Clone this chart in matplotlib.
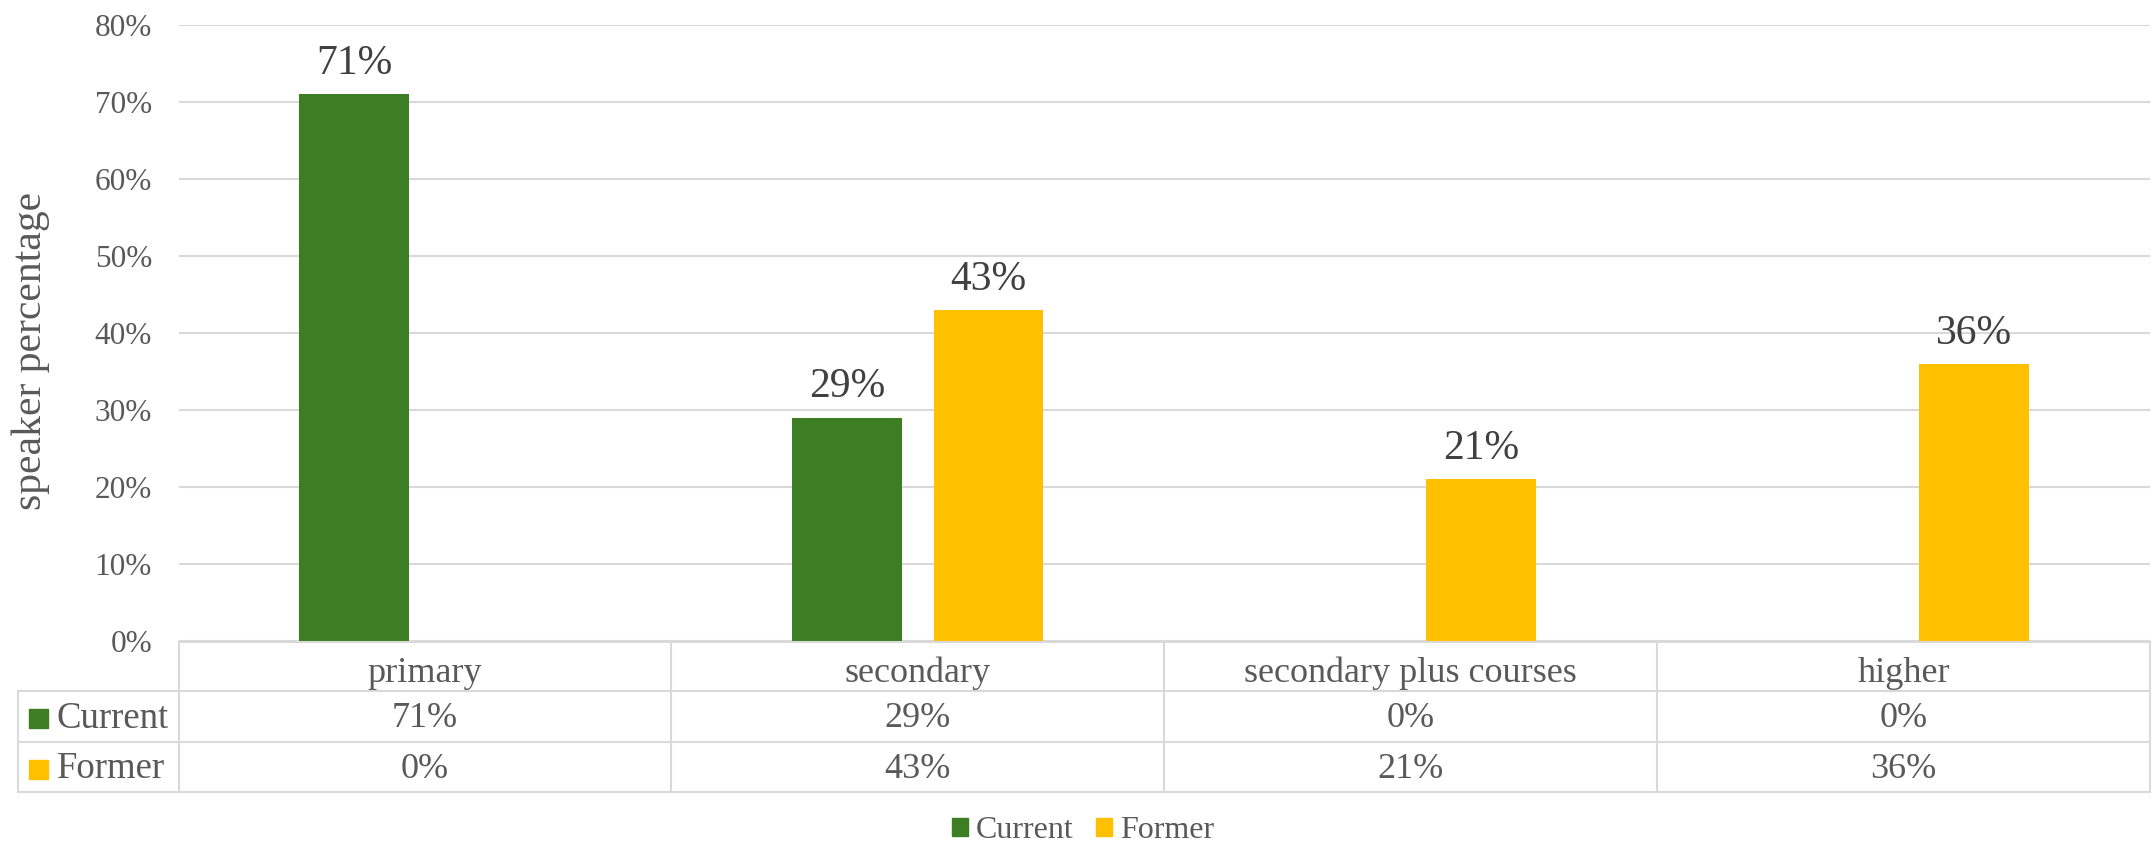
import matplotlib.pyplot as plt
import numpy as np
from matplotlib.patches import Patch
from matplotlib.transforms import blended_transform_factory

# data
categories = ['primary', 'secondary', 'secondary plus courses', 'higher']
series = ['Current', 'Former']
current = [71, 29, 0, 0]
former = [0, 43, 21, 36]
colors = ['#3D7D23', '#FFC000']
yticks = [0, 10, 20, 30, 40, 50, 60, 70, 80]

plt.rcParams['font.family'] = ['Liberation Serif', 'DejaVu Serif']
TXT = '#595959'
GRID = '#D9D9D9'

W, H = 2153, 843
fig = plt.figure(figsize=(W / 100, H / 100), dpi=100)


def fx(px):
    return px / W


def fy(px):
    return 1 - px / H


ax = fig.add_axes([fx(178.5), fy(641), fx(2150) - fx(178.5), fy(24.7) - fy(641)])

x = np.arange(len(categories))
width = 0.223
offset = 0.1435
values = [current, former]
for i, (name, vals) in enumerate(zip(series, values)):
    pos = x + (i * 2 - 1) * offset
    bars = ax.bar(pos, vals, width, color=colors[i], label=name, zorder=3)
    for b, v in zip(bars, vals):
        if v == 0:
            continue
        ax.annotate(f'{v}%', (b.get_x() + b.get_width() / 2, v),
                    xytext=(0, 8), textcoords='offset points',
                    ha='center', va='bottom', fontsize=30, color='#404040')

ax.set_xlim(-0.5, len(categories) - 0.5)
ax.set_ylim(0, 80)
ax.set_yticks(yticks)
ax.set_yticklabels([f'{t}%' for t in yticks])
ax.tick_params(axis='y', length=0, pad=19, labelsize=22.5, labelcolor=TXT)
ax.set_xticks([])
ax.yaxis.grid(True, color=GRID, linewidth=1.5, zorder=0)
for s in ax.spines.values():
    s.set_visible(False)

fig.text(fx(31), fy(351), 'speaker percentage', rotation=90, ha='center',
         va='center', fontsize=30, color=TXT)

# data table under the plot
tr = blended_transform_factory(ax.transData, fig.transFigure)
row_edges = [642, 691, 742, 792]
left_px = 18
line_kw = dict(color=GRID, linewidth=1.5, clip_on=False, solid_capstyle='projecting')

fig.add_artist(plt.Line2D([fx(178.5), fx(2150)], [fy(row_edges[0])] * 2, **line_kw))
for r in row_edges[1:]:
    fig.add_artist(plt.Line2D([fx(left_px), fx(2150)], [fy(r)] * 2, **line_kw))
for xb in np.arange(len(categories) + 1) - 0.5:
    ax.add_artist(plt.Line2D([xb, xb], [fy(row_edges[0]), fy(row_edges[-1])],
                             transform=tr, **line_kw))
fig.add_artist(plt.Line2D([fx(left_px)] * 2, [fy(row_edges[1]), fy(row_edges[-1])], **line_kw))

hdr_y = fy((row_edges[0] + row_edges[1]) / 2 + 7)
for xi, cat in zip(x, categories):
    ax.text(xi, hdr_y, cat, transform=tr, ha='center', va='center',
            fontsize=26, color=TXT)

for i, (name, vals) in enumerate(zip(series, values)):
    yc = fy((row_edges[i + 1] + row_edges[i + 2]) / 2 + 2)
    fig.add_artist(plt.Rectangle((fx(29), yc - 9.5 / H), 19 / W, 19 / H,
                                 color=colors[i], transform=fig.transFigure))
    fig.text(fx(57), yc, name, ha='left', va='center', fontsize=26.5, color=TXT)
    for xi, v in zip(x, vals):
        ax.text(xi, yc, f'{v}%', transform=tr, ha='center', va='center',
                fontsize=26, color=TXT)

handles = [Patch(color=c, label=n) for c, n in zip(colors, series)]
fig.legend(handles=handles, loc='center', bbox_to_anchor=(fx(1083), fy(831)),
           ncol=2, frameon=False, fontsize=23, labelcolor=TXT,
           handlelength=0.5, handleheight=0.5, handletextpad=0.25,
           columnspacing=0.7, borderpad=0, borderaxespad=0)

fig.savefig('out.png', dpi=100)
